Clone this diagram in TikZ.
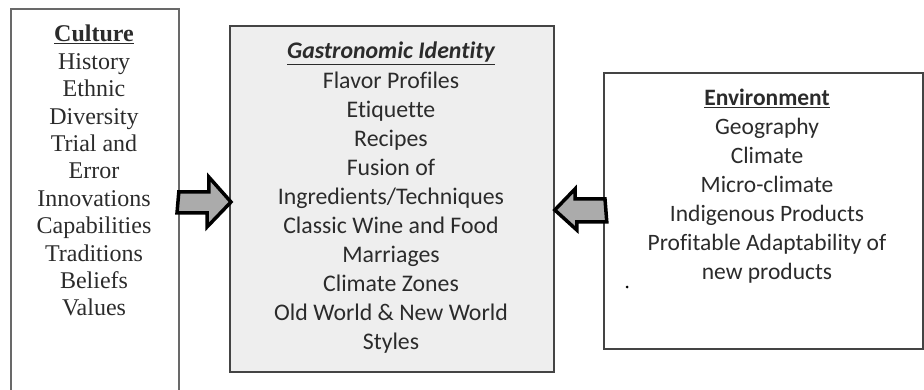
\documentclass[tikz,border=0pt]{standalone}
\usepackage{fontspec}
\setmainfont[Ligatures={NoCommon}]{Carlito}
\newfontfamily\serifface{Liberation Serif}
\usetikzlibrary{calc}
\definecolor{txt}{HTML}{2B2B2B}
\definecolor{boxline}{HTML}{444444}
\definecolor{centerfill}{HTML}{EEEEEE}
\definecolor{arrowfill}{HTML}{ABABAB}
\tikzset{
  panel/.style={draw=boxline, line width=1.8pt, inner sep=0pt, anchor=north west},
  listtext/.style={text=txt, align=center, inner sep=0pt, anchor=north},
  blockarrow/.style={draw=black, line width=3.5pt, fill=arrowfill, line join=miter, miter limit=10},
}
\begin{document}
\begin{tikzpicture}[x=1pt,y=-1pt]
\useasboundingbox (0,0) rectangle (924,390);
% boxes
\node[panel, draw=boxline!80, minimum width=168pt, minimum height=400pt] (cult) at (10,8) {};
\node[panel, fill=centerfill, minimum width=324pt, minimum height=346pt] (gast) at (229,25) {};
\node[panel, minimum width=319pt, minimum height=276pt] (env) at (603,72) {};
% texts
\node[listtext, font=\serifface\fontsize{24}{27.4}\selectfont] (culttxt) at (94,25)
  {\textbf{\underline{Culture}}\\History\\Ethnic\\Diversity\\Trial and\\Error\\Innovations\\Capabilities\\Traditions\\Beliefs\\Values};
\node[listtext, font=\fontsize{23.8}{29.1}\selectfont] (gasttxt) at (391,42)
  {\textbf{\textit{\underline{Gastronomic Identity}}}\\Flavor Profiles\\Etiquette\\Recipes\\Fusion of\\Ingredients/Techniques\\Classic Wine and Food\\Marriages\\Climate Zones\\Old World \& New World\\Styles};
\node[listtext, font=\fontsize{23.5}{29}\selectfont] (envtxt) at (767,89)
  {\textbf{\underline{Environment}}\\Geography\\Climate\\Micro-climate\\Indigenous Products\\Profitable Adaptability of\\new products};
\node[circle, fill=black, inner sep=0pt, minimum size=3pt] (dot) at (627,287) {};
% arrows
\coordinate (la) at ($(cult.north east)+(0,194)$);
\draw[blockarrow] (la) ++(-1,-10) -- ++(30,0) -- ++(0,-15) -- ($(gast.north west)+(2,177)$)
  -- ++(-24,25) -- ++(0,-14) -- ++(-30,0) -- cycle;
\coordinate (ra) at ($(env.north west)+(0,138)$);
\draw[blockarrow] (ra) ++(2,-11) -- ++(-30,0) -- ++(0,-10) -- ($(gast.north east)+(0,185)$)
  -- ++(22,20) -- ++(0,-8) -- ++(30,0) -- cycle;
\end{tikzpicture}
\end{document}
